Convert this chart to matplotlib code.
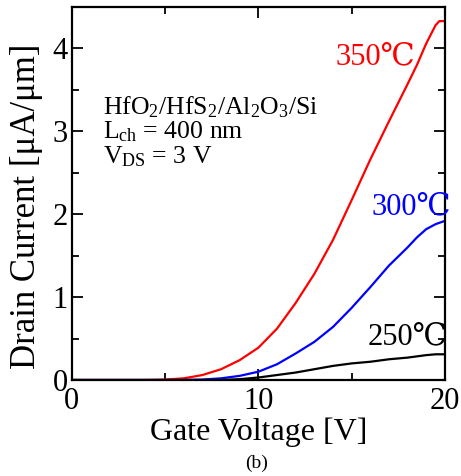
import matplotlib
matplotlib.use("Agg")
import matplotlib.pyplot as plt

plt.rcParams['font.family'] = ['Liberation Serif', 'DejaVu Serif']
plt.rcParams['mathtext.fontset'] = 'custom'
plt.rcParams['mathtext.rm'] = 'Liberation Serif'
plt.rcParams['mathtext.it'] = 'Liberation Serif:italic'

# Data
vg_350 = [0, 2, 4, 5, 6, 7, 8, 9, 10, 11, 12, 13, 14, 15, 16, 17, 18, 18.5, 19, 19.5, 19.7, 20]
id_350 = [0, 0, 0, 0.005, 0.02, 0.06, 0.13, 0.24, 0.39, 0.62, 0.93, 1.28, 1.69, 2.17, 2.66, 3.12, 3.57, 3.80, 4.06, 4.28, 4.33, 4.33]

vg_300 = [0, 2, 4, 6, 7, 8, 9, 10, 11, 12, 13, 14, 15, 16, 17, 18, 18.5, 19, 19.5, 20]
id_300 = [0, 0, 0, 0, 0.005, 0.02, 0.05, 0.10, 0.19, 0.32, 0.46, 0.64, 0.87, 1.12, 1.38, 1.60, 1.72, 1.82, 1.88, 1.92]

vg_250 = [0, 2, 4, 6, 8, 9, 10, 11, 12, 13, 14, 15, 16, 17, 18, 19, 19.5, 20]
id_250 = [0, 0, 0, 0, 0, 0.01, 0.03, 0.06, 0.09, 0.13, 0.17, 0.20, 0.22, 0.25, 0.27, 0.30, 0.31, 0.31]

series = [(vg_350, id_350, 'red', '350℃', 14.15, 3.9),
          (vg_300, id_300, 'blue', '300℃', 16.05, 2.09),
          (vg_250, id_250, 'black', '250℃', 15.85, 0.52)]

fig = plt.figure(figsize=(4.61, 4.76), dpi=100)
ax = fig.add_axes([0.156, 0.2017, 0.809, 0.7835])

for x, y, c, lab, tx, ty in series:
    ax.plot(x, y, color=c, lw=1.6)
    ax.text(tx, ty, lab, color=c, fontsize=22, ha='left', va='center')

ax.set_xlim(0, 20)
ax.set_ylim(0, 4.5)
ax.set_xticks([0, 10, 20])
ax.set_xticks([5, 15], minor=True)
ax.set_yticks([0, 1, 2, 3, 4])
ax.set_yticks([0.5, 1.5, 2.5, 3.5], minor=True)
ax.tick_params(which='both', direction='in', top=True, right=True, width=1.3, labelsize=22)
ax.tick_params(which='major', length=8)
ax.tick_params(which='minor', length=5)
ax.tick_params(axis='x', pad=5)
ax.tick_params(axis='y', pad=3)
for s in ax.spines.values():
    s.set_linewidth(1.6)

ax.set_xlabel('Gate Voltage [V]', fontsize=23, labelpad=1)
ax.set_ylabel('Drain Current [μA/μm]', fontsize=25)
ax.yaxis.set_label_coords(-(72 - 43) / 373, 0.466)

ax.text(1.66, 3.29, 'HfO$_2$/HfS$_2$/Al$_2$O$_3$/Si', fontsize=18.5, va='center')
ax.text(1.66, 2.99, 'L$_{\\mathrm{ch}}$ = 400 nm', fontsize=18.5, va='center')
ax.text(1.66, 2.69, 'V$_{\\mathrm{DS}}$ = 3 V', fontsize=18.5, va='center')

fig.text(257/461, 1 - 463/476, '(b)', fontsize=14, ha='center', va='center')

fig.savefig('out.png', dpi=100)
